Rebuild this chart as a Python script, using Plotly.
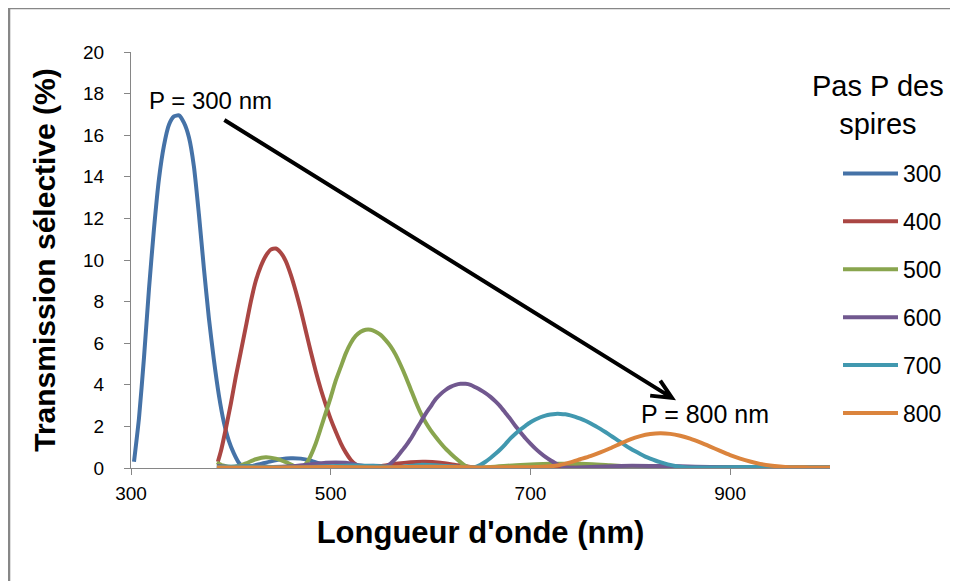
import plotly.graph_objects as go

# ---- data ----
wl_300 = [303,308,313,318,323,328,333,338,343,348,353,358,363,368,373,378,383,388,393,398,403,408,413,420,430,440,450,460,470,480,490,500,508,520,535,550,565,580,600,620,640,660,700,750,800,850,900,950,1000]
t_300 = [0.3,2.4,5.3,8.6,11.5,13.9,15.5,16.5,16.9,16.95,16.6,15.9,14.5,12.2,9.6,7.2,5.2,3.5,2.2,1.3,0.7,0.25,0.03,0.08,0.2,0.32,0.42,0.47,0.45,0.35,0.2,0.07,0.01,0.05,0.1,0.1,0.05,0.01,0.04,0.06,0.04,0.01,0.03,0.02,0.01,0.02,0.01,0.01,0.01]

wl_400 = [387,390,395,400,405,410,415,420,425,430,435,440,445,450,455,460,465,470,475,480,485,490,495,500,505,510,515,520,525,530,535,550,565,580,595,610,625,640,655,670,700,730,760,800,850,900,950,1000]
t_400 = [0.3,0.8,1.9,3.1,4.4,5.6,6.8,8.0,9.0,9.7,10.2,10.5,10.55,10.35,9.95,9.3,8.5,7.6,6.6,5.6,4.65,3.8,3.05,2.35,1.75,1.2,0.75,0.4,0.17,0.04,0.0,0.08,0.2,0.28,0.3,0.25,0.15,0.05,0.0,0.05,0.1,0.08,0.02,0.03,0.04,0.02,0.02,0.02]

wl_500 = [386,392,400,408,415,425,435,445,455,463,470,476,480,485,490,495,500,505,510,515,520,525,530,535,540,545,550,555,560,565,570,575,580,585,590,595,600,605,610,615,620,625,630,635,640,660,690,720,750,780,810,840,870,920,1000]
t_500 = [0.27,0.12,0.05,0.1,0.22,0.42,0.52,0.45,0.28,0.1,0.01,0.25,0.6,1.18,1.9,2.65,3.4,4.2,4.85,5.5,6.0,6.35,6.55,6.65,6.65,6.55,6.4,6.15,5.85,5.45,4.95,4.4,3.8,3.2,2.65,2.2,1.82,1.5,1.2,0.93,0.7,0.48,0.28,0.1,0.01,0.05,0.15,0.2,0.2,0.13,0.05,0.01,0.02,0.04,0.02]

wl_600 = [386,400,420,440,460,480,495,505,515,530,545,550,555,560,565,570,575,580,585,590,595,600,605,610,615,620,625,630,635,640,645,650,655,660,665,670,675,680,685,690,695,700,705,710,715,720,725,730,735,740,760,790,820,850,880,920,960,1000]
t_600 = [0.1,0.05,0.1,0.05,0.08,0.18,0.25,0.27,0.25,0.12,0.02,0.0,0.05,0.22,0.45,0.75,1.05,1.4,1.8,2.2,2.6,2.95,3.3,3.55,3.75,3.9,4.0,4.05,4.05,4.0,3.88,3.75,3.6,3.42,3.2,2.95,2.65,2.35,2.02,1.72,1.43,1.17,0.93,0.72,0.53,0.37,0.23,0.12,0.04,0.01,0.05,0.1,0.1,0.08,0.05,0.02,0.02,0.02]

wl_700 = [386,420,450,480,520,545,565,590,615,640,645,650,655,660,665,670,675,680,685,690,695,700,705,710,715,720,725,730,735,740,745,750,755,760,765,770,775,780,785,790,795,800,805,810,815,820,825,830,835,840,845,850,858,880,920,960,1000]
t_700 = [0.05,0.08,0.03,0.05,0.12,0.1,0.03,0.15,0.1,0.03,0.05,0.15,0.3,0.48,0.68,0.9,1.15,1.42,1.65,1.85,2.03,2.2,2.33,2.44,2.52,2.57,2.6,2.6,2.58,2.53,2.46,2.37,2.27,2.15,2.02,1.88,1.73,1.57,1.41,1.25,1.09,0.94,0.8,0.67,0.55,0.45,0.36,0.28,0.21,0.15,0.1,0.06,0.02,0.03,0.05,0.05,0.04]

wl_800 = [386,450,500,550,600,650,700,720,730,740,750,760,770,780,790,800,810,820,830,840,850,860,870,880,890,900,910,920,930,940,950,960,980,1000]
t_800 = [0.03,0.02,0.05,0.03,0.06,0.03,0.04,0.08,0.15,0.27,0.42,0.57,0.75,0.95,1.17,1.38,1.53,1.63,1.67,1.64,1.55,1.41,1.23,1.03,0.82,0.62,0.45,0.31,0.2,0.12,0.07,0.04,0.03,0.02]

series_names = ["300", "400", "500", "600", "700", "800"]
series_x = [wl_300, wl_400, wl_500, wl_600, wl_700, wl_800]
series_y = [t_300, t_400, t_500, t_600, t_700, t_800]
colors = ["#4572A7", "#AA4643", "#89A54E", "#71588F", "#4198AF", "#DB843D"]

x_ticks = [300, 500, 700, 900]
y_ticks = [0, 2, 4, 6, 8, 10, 12, 14, 16, 18, 20]

FONT = "Liberation Sans, Arial, sans-serif"

fig = go.Figure()
for name, xs, ys, c in zip(series_names, series_x, series_y, colors):
    fig.add_trace(go.Scatter(
        x=xs, y=ys, name=name, mode="lines", legendgroup=name,
        line=dict(color=c, width=4, shape="spline", smoothing=0.6),
    ))

# Arrow from P=300 to P=800 (line + open V head)
fig.add_shape(type="path",
              path="M 393.5,16.73 L 841.7,3.37 M 819.9,3.48 L 841.7,3.37 L 830.0,4.20",
              xref="x", yref="y", line=dict(color="black", width=4))

# Outer chart border (left and top visible)
fig.add_shape(type="rect", xref="paper", yref="paper",
              x0=-0.1745, x1=1.4, y0=-0.45, y1=1.1058,
              line=dict(color="#878787", width=2.5), layer="below")

fig.add_annotation(text="P = 300 nm", x=316, y=17.69, xref="x", yref="y",
                   xanchor="left", yanchor="middle", showarrow=False,
                   font=dict(family=FONT, size=24, color="black"))
fig.add_annotation(text="P = 800 nm", x=809, y=2.6, xref="x", yref="y",
                   xanchor="left", yanchor="middle", showarrow=False,
                   font=dict(family=FONT, size=25, color="black"))
fig.add_annotation(text="Pas P des<br>spires", x=(878 - 131) / 699, y=(468 - 105) / 416,
                   xref="paper", yref="paper", xanchor="center", yanchor="middle",
                   showarrow=False, align="center",
                   font=dict(family=FONT, size=29, color="black"))

fig.update_layout(
    width=958, height=581,
    margin=dict(l=123, r=136, t=44, b=121),
    paper_bgcolor="white", plot_bgcolor="white",
    font=dict(family=FONT, color="black"),
    showlegend=True,
    legend=dict(x=(838 - 131) / 699, y=(468 - 152) / 416, xanchor="left", yanchor="top",
                font=dict(family=FONT, size=23, color="black"), itemwidth=55,
                tracegroupgap=15, bgcolor="rgba(0,0,0,0)", borderwidth=0),
    xaxis=dict(range=[300, 1000], tickvals=x_ticks, ticks="outside", ticklen=6,
               tickcolor="#868686", showline=True, linecolor="#868686", linewidth=1,
               showgrid=False, zeroline=False, ticklabelstandoff=2,
               tickfont=dict(family=FONT, size=19, color="black"),
               title=dict(text="<b>Longueur d'onde (nm)</b>", standoff=18,
                          font=dict(family=FONT, size=31, color="black"))),
    yaxis=dict(range=[0, 20], tickvals=y_ticks, ticks="outside", ticklen=6,
               tickcolor="#868686", showline=True, linecolor="#868686", linewidth=1,
               showgrid=False, zeroline=False, ticklabelstandoff=16,
               tickfont=dict(family=FONT, size=19, color="black"),
               title=dict(text="<b>Transmission sélective (%)</b>", standoff=18,
                          font=dict(family=FONT, size=30, color="black"))),
)

fig.write_html("out.html")
